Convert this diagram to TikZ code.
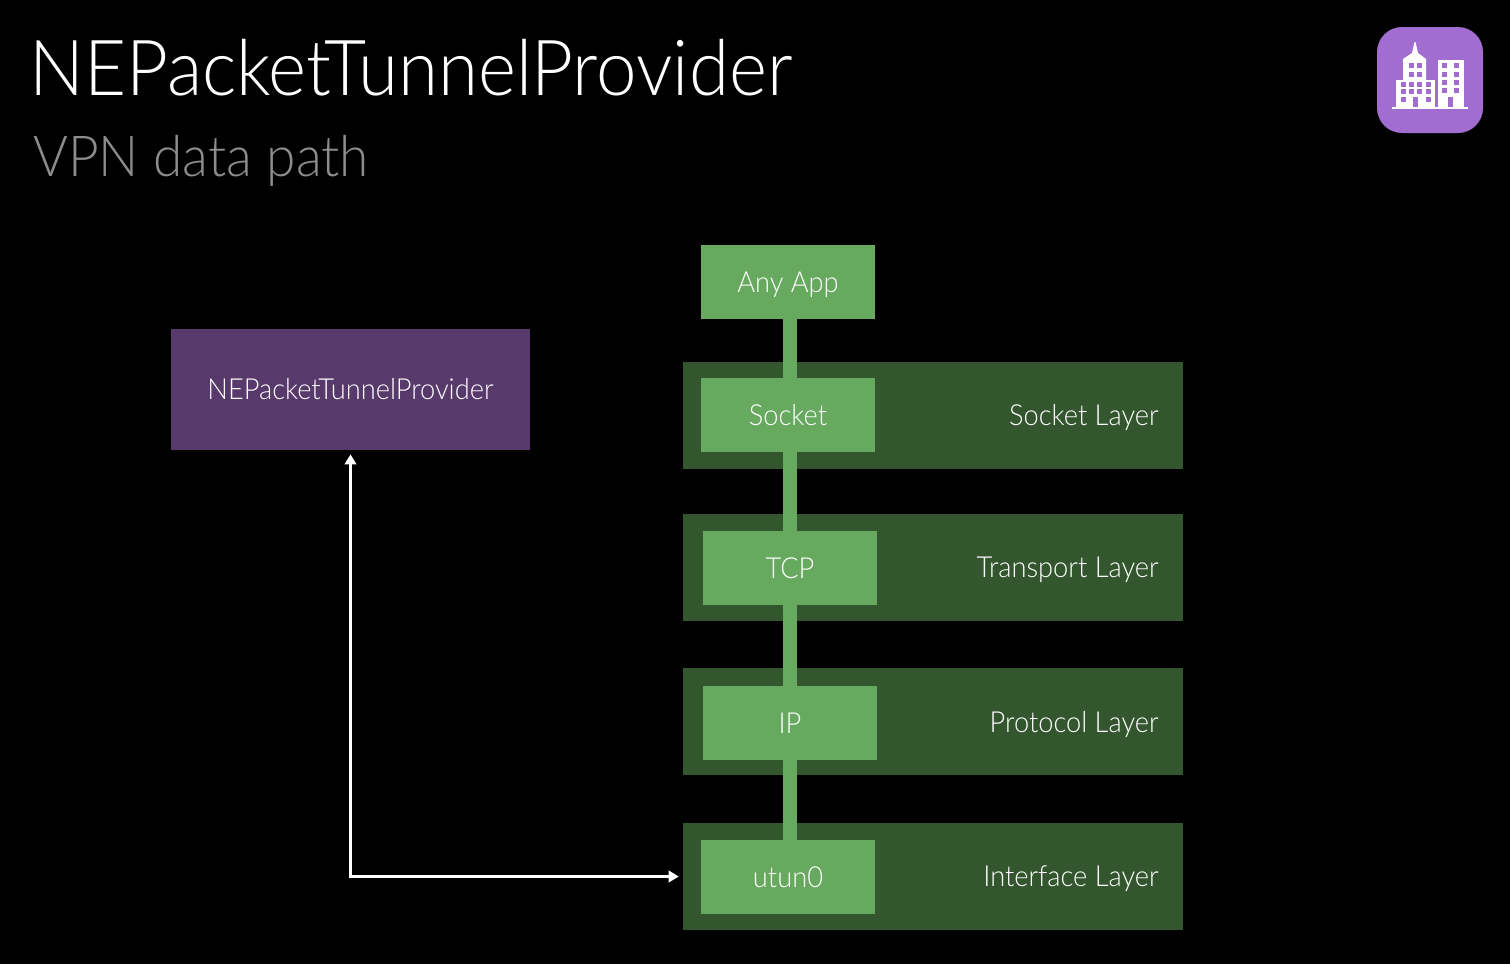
\documentclass[tikz,border=0pt]{standalone}
\usepackage{fontspec}
\setmainfont[FakeStretch=0.94]{Lato Light}
\usepackage{tikz}
\usetikzlibrary{arrows.meta}
\definecolor{fondoN}{HTML}{000000}
\definecolor{capaV}{HTML}{33562F}
\definecolor{cajaV}{HTML}{66A95F}
\definecolor{provM}{HTML}{58396B}
\definecolor{iconoM}{HTML}{A26DD0}
\definecolor{grisT}{HTML}{8C8C8C}
\tikzset{
  layerband/.style={fill=capaV,minimum width=10cm,minimum height=2.14cm,inner sep=0pt},
  stackbox/.style={fill=cajaV,text=white,minimum width=3.48cm,minimum height=1.48cm,inner sep=0pt,text height=12.5pt,text depth=0pt,font=\fontsize{16.5}{20}\selectfont},
  layertext/.style={text=white,anchor=east,inner sep=0pt,text height=12.5pt,text depth=0pt,font=\fontsize{16.5}{20}\selectfont},
  pipe/.style={cajaV,line width=0.27cm},
  signal/.style={white,line width=0.045cm,{Triangle[length=0.2cm,width=0.23cm]}-{Triangle[length=0.2cm,width=0.23cm]},shorten <=0.08cm,shorten >=0.08cm},
}
\begin{document}
\begin{tikzpicture}[x=0.02cm,y=-0.02cm]
  \fill[fondoN] (0,0) rectangle (1510,964);
  \useasboundingbox (0,0) rectangle (1510,964);
  % title
  \node[anchor=base west,inner sep=0pt,text=white,font=\fontsize{44}{50}\selectfont] (title) at (29,95) {NEPacketTunnelProvider};
  \node[anchor=base west,inner sep=0pt,text=grisT,font=\fontsize{32.2}{38}\selectfont] (subtitle) at (33,176) {VPN data path};
  % layers
  \node[layerband] (socketband) at (933,415) {};
  \node[layerband] (tcpband) at (933,567) {};
  \node[layerband] (ipband) at (933,721.5) {};
  \node[layerband] (utunband) at (933,876.5) {};
  \node[layertext] (socketlabel) at (1159,415) {Socket Layer};
  \node[layertext] (tcplabel) at (1159,567) {Transport Layer};
  \node[layertext] (iplabel) at (1159,722) {Protocol Layer};
  \node[layertext] (utunlabel) at (1159,876) {Interface Layer};
  % stack
  \node[stackbox] (anyapp) at (788,282) {Any App};
  \node[stackbox] (socket) at (788,415) {Socket};
  \node[stackbox] (tcp) at (790,568) {TCP};
  \node[stackbox] (ip) at (790,723) {IP};
  \node[stackbox] (utun) at (788,877) {utun0};
  \draw[pipe] (anyapp.south -| tcp.north) -- (socket.north -| tcp.north);
  \draw[pipe] (socket.south -| tcp.north) -- (tcp.north);
  \draw[pipe] (tcp.south) -- (ip.north);
  \draw[pipe] (ip.south) -- (utun.north -| ip.south);
  % provider
  \node[fill=provM,text=white,minimum width=7.18cm,minimum height=2.42cm,inner sep=0pt,font=\fontsize{16.5}{20}\selectfont] (provider) at (350.5,389.5) {NEPacketTunnelProvider};
  \draw[signal] (provider.south) |- (utunband.west);
  % icon
  \fill[iconoM,rounded corners=0.5cm] (1377,27) rectangle (1483,133);
  \fill[white] (1392,107) rectangle (1468,109);
  \fill[white] (1396,80) rectangle (1435,107);
  \fill[white] (1403,59) -- (1412,53) -- (1414.5,42) -- (1415.5,42) -- (1418,53) -- (1426,59) -- (1426,80) -- (1403,80) -- cycle;
  \fill[white] (1438,60) rectangle (1464,107);
  \foreach \wx in {1409,1417} \foreach \wy in {63,72}
    \fill[iconoM] (\wx,\wy) rectangle +(5,5);
  \foreach \wx in {1401,1409,1417,1426} \foreach \wy in {82,89}
    \fill[iconoM] (\wx,\wy) rectangle +(5,5);
  \foreach \wx in {1401,1426}
    \fill[iconoM] (\wx,97) rectangle +(5,5);
  \fill[iconoM] (1413,97) rectangle (1418,107);
  \foreach \wx in {1442,1454} \foreach \wy in {63,72,80,88}
    \fill[iconoM] (\wx,\wy) rectangle +(5,5);
  \fill[iconoM] (1448,97) rectangle (1453,107);
\end{tikzpicture}
\end{document}
